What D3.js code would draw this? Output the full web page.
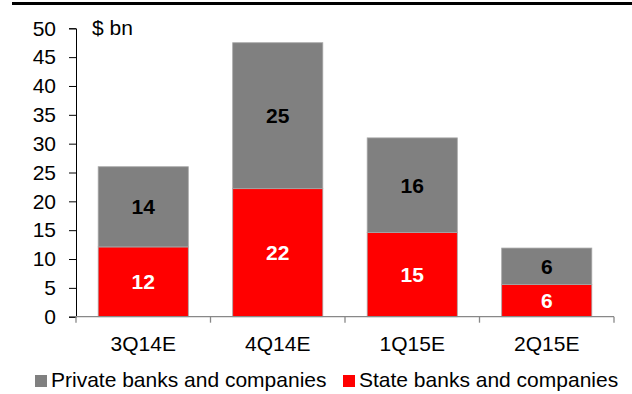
<!DOCTYPE html>
<html>
<head>
<meta charset="utf-8">
<script src="https://cdn.jsdelivr.net/npm/d3@7"></script>
<style>
  body { margin: 0; background: #fff; }
  svg { display: block; font-family: "Liberation Sans", Arial, sans-serif; }
</style>
</head>
<body>
<div id="chart"></div>
<script>
// quarters and the two stacked series ($ bn)
const quarters = ["3Q14E", "4Q14E", "1Q15E", "2Q15E"];
const stateVals = [12.1, 22.2, 14.6, 5.6];
const privateVals = [13.9, 25.3, 16.4, 6.3];
const yTicks = [0, 5, 10, 15, 20, 25, 30, 35, 40, 45, 50];

const width = 632, height = 394;
const margin = { top: 28.3, right: 18, bottom: 77.3, left: 76 };
const fs = 21;

const svg = d3.select("#chart").append("svg")
    .attr("width", width)
    .attr("height", height);

// top rule
svg.append("rect")
    .attr("x", 12).attr("y", 2)
    .attr("width", width - 12).attr("height", 3)
    .attr("fill", "#000");

const x = d3.scaleBand()
    .domain(quarters)
    .range([margin.left, width - margin.right])
    .paddingInner(0.33)
    .paddingOuter(0.165);

const y = d3.scaleLinear()
    .domain([0, 50])
    .range([height - margin.bottom, margin.top]);

const rows = quarters.map((q, i) => ({ q, state: stateVals[i], priv: privateVals[i] }));
const stack = d3.stack().keys(["state", "priv"])(rows);
const colors = { state: "#ff0000", priv: "#808080" };
const labelColors = { state: "#fff", priv: "#000" };

// bars
stack.forEach(layer => {
    const g = svg.append("g");
    g.selectAll("rect")
        .data(layer)
        .enter()
        .append("rect")
        .attr("x", d => x(d.data.q))
        .attr("width", x.bandwidth())
        .attr("y", d => y(d[1]))
        .attr("height", d => y(d[0]) - y(d[1]))
        .attr("fill", colors[layer.key])
        .attr("stroke", "#a6a6a6")
        .attr("stroke-width", 0.8);

    g.selectAll("text")
        .data(layer)
        .enter()
        .append("text")
        .attr("x", d => x(d.data.q) + x.bandwidth() / 2)
        .attr("y", d => (y(d[0]) + y(d[1])) / 2)
        .attr("dy", "0.36em")
        .attr("text-anchor", "middle")
        .attr("font-size", fs)
        .attr("font-weight", "bold")
        .attr("fill", labelColors[layer.key])
        .text(d => Math.round(d[1] - d[0]));
});

// y axis
const yAxis = svg.append("g")
    .attr("transform", `translate(${margin.left},0)`)
    .call(d3.axisLeft(y).tickValues(yTicks).tickSize(7).tickPadding(13));
yAxis.select(".domain").attr("stroke", "#000");
yAxis.selectAll(".tick line").attr("stroke", "#000");
yAxis.selectAll("text").attr("font-size", fs).attr("fill", "#000")
    .attr("font-family", "Liberation Sans, Arial, sans-serif");

// x axis with ticks between categories
const xAxisG = svg.append("g")
    .attr("transform", `translate(0,${y(0)})`);
const bounds = quarters.map(q => x(q) - x.step() * x.paddingInner() / 2);
bounds.push(width - margin.right);
xAxisG.append("line")
    .attr("x1", margin.left).attr("x2", width - margin.right)
    .attr("stroke", "#888").attr("stroke-width", 1.3);
xAxisG.selectAll("line.tk")
    .data(bounds)
    .enter()
    .append("line")
    .attr("class", "tk")
    .attr("x1", d => d).attr("x2", d => d)
    .attr("y1", 0).attr("y2", 6)
    .attr("stroke", "#888").attr("stroke-width", 1.3);
xAxisG.selectAll("text")
    .data(quarters)
    .enter()
    .append("text")
    .attr("x", d => x(d) + x.bandwidth() / 2)
    .attr("y", 34)
    .attr("text-anchor", "middle")
    .attr("font-size", fs)
    .text(d => d);

// unit label
svg.append("text")
    .attr("x", 92).attr("y", 35)
    .attr("font-size", fs)
    .text("$ bn");

// legend
const legend = [
    { label: "Private banks and companies", key: "priv", x: 35 },
    { label: "State banks and companies", key: "state", x: 343 }
];
const lg = svg.selectAll("g.legend")
    .data(legend)
    .enter()
    .append("g")
    .attr("class", "legend")
    .attr("transform", d => `translate(${d.x},375)`);
lg.append("rect")
    .attr("width", 12).attr("height", 12)
    .attr("fill", d => colors[d.key]);
lg.append("text")
    .attr("x", 16).attr("y", 12)
    .attr("font-size", fs)
    .text(d => d.label);
</script>
</body>
</html>
